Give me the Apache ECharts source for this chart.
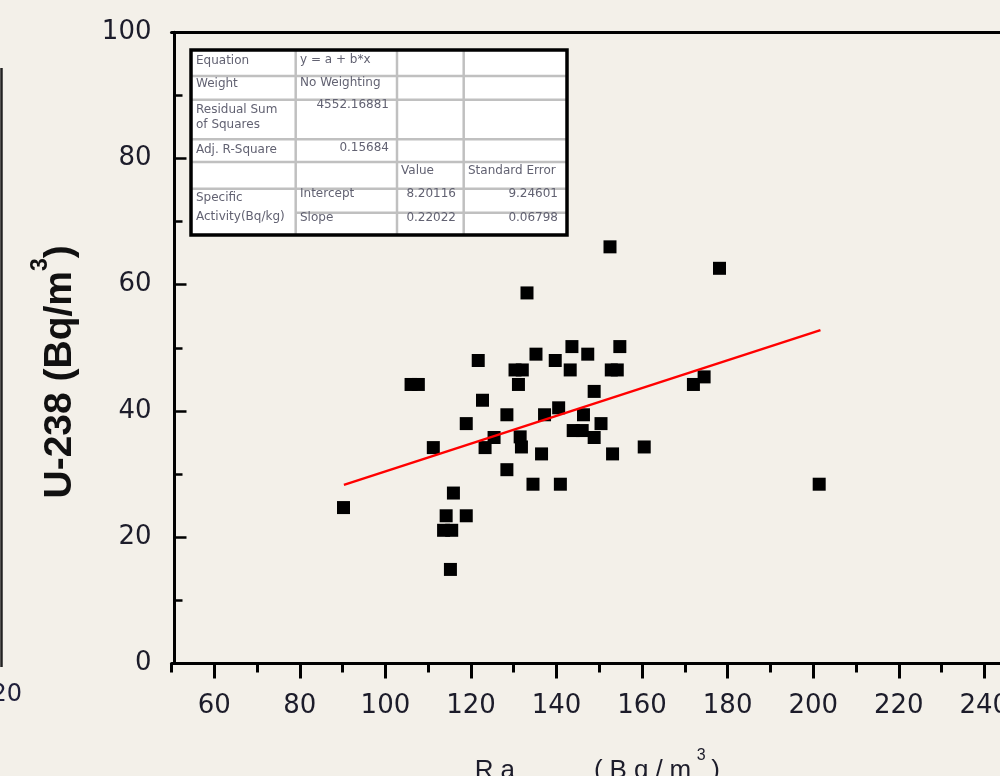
<!DOCTYPE html>
<html><head><meta charset="utf-8">
<script src="https://cdn.jsdelivr.net/npm/echarts@6/dist/echarts.min.js"></script>
<style>html,body{margin:0;padding:0;background:#f3f0e9;overflow:hidden}#chart{width:1000px;height:776px}</style>
</head><body><div id="chart"></div>
<script>
// ---- data ----
const raValues = [152.5,133.1,143.6,135.2,147.3,154.8,121.7,139.7,130.3,132.0,143.2,152.8,154.2,106.0,107.7,131.1,148.8,122.7,128.4,137.2,140.5,146.3,118.9,150.4,143.9,146.0,148.8,125.4,123.3,111.2,131.5,131.8,136.5,153.1,160.5,128.4,134.5,140.9,115.9,90.2,114.2,118.9,113.6,115.5,115.2,178.1,174.5,172.0,201.4];
const uValues  = [66.0,58.7,50.2,49.0,49.0,50.2,48.0,48.0,46.5,46.5,46.5,46.5,46.5,44.2,44.2,44.2,43.1,41.7,39.4,39.4,40.5,39.4,38.0,38.0,36.9,36.9,35.8,35.8,34.2,34.2,35.9,34.3,33.2,33.2,34.3,30.7,28.4,28.4,27.0,24.7,23.4,23.4,21.1,21.1,14.9,62.6,45.4,44.2,28.4];
const fitX = [90.3, 201.7];
const fitY = [28.3, 52.8];
const xMajorTicks = [60,80,100,120,140,160,180,200,220,240];
const xMinorTicks = [50,70,90,110,130,150,170,190,210,230,250];
const yTickStep = 20;
const yMin = 0, yMax = 100, xMin = 50, xMax = 250;
const tableRows = [
  ['Equation', 'y = a + b*x', '', ''],
  ['Weight', 'No Weighting', '', ''],
  ['Residual Sum\nof Squares', '4552.16881', '', ''],
  ['Adj. R-Square', '0.15684', '', ''],
  ['', '', 'Value', 'Standard Error'],
  ['Specific\nActivity(Bq/kg)', 'Intercept', '8.20116', '9.24601'],
  ['', 'Slope', '0.22022', '0.06798']
];

const chart = echarts.init(document.getElementById('chart'));
const INK = '#1c1c2a';
const TFONT = '12px "DejaVu Sans"';
const TCOL = '#626272';
function txt(t, x, y, align) {
  return {type:'text', x:x, y:y, z:20, style:{text:t, font:TFONT, fill:TCOL, align:align||'left', textAlign:align||'left', verticalAlign:'middle', textVerticalAlign:'middle'}};
}
function hline(y, x1, x2, c, w) { return {type:'line', z:19, shape:{x1:x1,y1:y,x2:x2,y2:y}, style:{stroke:c, lineWidth:w}}; }
function vline(x, y1, y2, c, w) { return {type:'line', z:19, shape:{x1:x,y1:y1,x2:x,y2:y2}, style:{stroke:c, lineWidth:w}}; }

const TL = 191, TR = 567, TT = 50, TB = 235;
const cols = [295.7, 397, 463.7];
const rows = [76, 99.7, 139.3, 162, 188.7];
const G = '#c0c0c0';
const graphic = [
  {type:'rect', z:18, shape:{x:TL, y:TT, width:TR-TL, height:TB-TT}, style:{fill:'#ffffff', stroke:null}},
];
rows.forEach(y => graphic.push(hline(y, TL, TR, G, 2.5)));
graphic.push(hline(212.7, cols[0], TR, G, 2.5));
cols.forEach(x => graphic.push(vline(x, TT, TB, G, 2.5)));
graphic.push({type:'rect', z:21, shape:{x:TL, y:TT, width:TR-TL, height:TB-TT}, style:{fill:'none', stroke:'#000', lineWidth:3.5}});
graphic.push(txt(tableRows[0][0], 196, 61));
graphic.push(txt(tableRows[0][1], 300, 60));
graphic.push(txt(tableRows[1][0], 196, 84));
graphic.push(txt(tableRows[1][1], 300, 83));
graphic.push(txt(tableRows[2][0].split('\n')[0], 196, 110));
graphic.push(txt(tableRows[2][0].split('\n')[1], 196, 125));
graphic.push(txt(tableRows[2][1], 389, 105, 'right'));
graphic.push(txt(tableRows[3][0], 196, 150));
graphic.push(txt(tableRows[3][1], 389, 147.5, 'right'));
graphic.push(txt(tableRows[4][2], 401, 171));
graphic.push(txt(tableRows[4][3], 468, 171));
graphic.push(txt(tableRows[5][0].split('\n')[0], 196, 198));
graphic.push(txt(tableRows[5][0].split('\n')[1], 196, 217));
graphic.push(txt(tableRows[5][1], 300, 194));
graphic.push(txt(tableRows[5][2], 456, 194, 'right'));
graphic.push(txt(tableRows[5][3], 558, 194, 'right'));
graphic.push(txt(tableRows[6][1], 300, 217.5));
graphic.push(txt(tableRows[6][2], 456, 217.5, 'right'));
graphic.push(txt(tableRows[6][3], 558, 217.5, 'right'));
// remnant of neighbouring panel at the left edge
graphic.push(vline(1.5, 68, 667, '#222', 2.5));
graphic.push({type:'text', x:22, y:695, z:20, style:{text:'20', font:'24px "DejaVu Sans"', fill:'#1f1f3a', align:'right', textAlign:'right', verticalAlign:'middle', textVerticalAlign:'middle'}});

const axisLineStyle = {color:'#000', width:3};
const xTitle = '{c|R}{c|a}{sub|eq}{gap|\u00a0}{c|(}{c|B}{c|q}{c|/}{c|m}{sup|3}{c|)}';

const option = {
  backgroundColor: '#f3f0e9',
  animation: false,
  grid: {left: 171.5, right: -27.1, top: 32.2, bottom: 112.5, containLabel: false, outerBoundsMode: 'none'},
  xAxis: [
    {
      type:'value', position:'bottom', min:xMin, max:xMax,
      axisLine:{show:true, onZero:false, lineStyle:axisLineStyle},
      axisTick:{show:true, customValues:xMajorTicks, length:15, lineStyle:{color:'#000', width:3}},
      axisLabel:{show:true, customValues:xMajorTicks, margin:30, fontFamily:'DejaVu Sans', fontSize:26, color:INK},
      splitLine:{show:false},
      name: xTitle, nameLocation:'middle', nameGap:84,
      nameTextStyle:{
        padding:[0,4,0,0],
        rich:{
          c:{fontSize:26, fontFamily:'Liberation Sans', color:INK, padding:[0,3.5,0,3.5], lineHeight:46},
          sub:{fontSize:17, fontFamily:'Liberation Sans', color:INK, verticalAlign:'bottom'},
          gap:{width:53, fontSize:26, lineHeight:46},
          sup:{fontSize:16, fontFamily:'Liberation Sans', color:INK, verticalAlign:'top', padding:[0,2,0,2]}
        }
      }
    },
    {
      type:'value', position:'bottom', min:xMin, max:xMax,
      axisLine:{show:false, onZero:false},
      axisTick:{show:true, customValues:xMinorTicks, length:9, lineStyle:{color:'#000', width:3}},
      axisLabel:{show:false}, splitLine:{show:false}
    },
    {
      type:'value', position:'top', min:xMin, max:xMax,
      axisLine:{show:true, onZero:false, lineStyle:axisLineStyle},
      axisTick:{show:false}, axisLabel:{show:false}, splitLine:{show:false}
    }
  ],
  yAxis: {
    type:'value', min:yMin, max:yMax, interval:yTickStep, offset:-3,
    axisLine:{show:true, onZero:false, lineStyle:axisLineStyle},
    axisTick:{show:true, inside:true, length:12, lineStyle:{color:'#000', width:2.5}},
    minorTick:{show:true, splitNumber:2, length:8, lineStyle:{color:'#000', width:2.5}},
    axisLabel:{margin:23, fontFamily:'DejaVu Sans', fontSize:26, color:INK},
    splitLine:{show:false},
    name:'U-238 (Bq/m{sup|3})', nameLocation:'middle', nameRotate:90, nameGap:83,
    nameTextStyle:{
      fontFamily:'Liberation Sans', fontWeight:'bold', fontSize:39, color:'#111', lineHeight:62,
      padding:[0,48,0,0],
      rich:{ sup:{fontFamily:'Liberation Sans', fontWeight:'bold', fontSize:23, color:'#111', verticalAlign:'top'} }
    }
  },
  series: [
    {
      type:'scatter', xAxisIndex:0, yAxisIndex:0,
      data: raValues.map((x,i) => [x, uValues[i]]),
      symbol:'rect', symbolSize:13, itemStyle:{color:'#000', opacity:1}, z:2
    },
    {
      type:'line', xAxisIndex:0, yAxisIndex:0,
      data: fitX.map((x,i) => [x, fitY[i]]),
      symbol:'none', lineStyle:{color:'#ff0000', width:2.5}, z:3
    }
  ],
  graphic: graphic
};
chart.setOption(option);
</script>
</body></html>
